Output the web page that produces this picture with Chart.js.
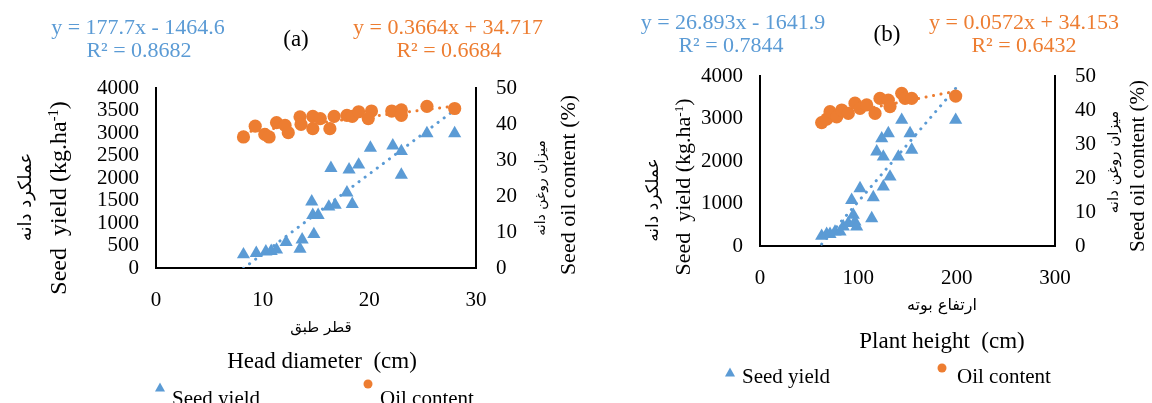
<!DOCTYPE html>
<html>
<head>
<meta charset="utf-8">
<script src="https://cdn.jsdelivr.net/npm/chart.js@4.4.1/dist/chart.umd.min.js"></script>
<style>
  body { margin: 0; background: #fff; }
  #page { position: relative; width: 1152px; height: 403px; overflow: hidden; font-family: "Liberation Serif", serif; color: #000; }
  canvas { position: absolute; top: 0; }
  .t { position: absolute; white-space: pre; transform: translate(-50%, -50%); line-height: 1; }
  .rot { transform: translate(-50%, -50%) rotate(-90deg); }
  .fa { font-family: "DejaVu Sans", sans-serif; direction: rtl; }
  .blue { color: #5b9bd5; }
  .orange { color: #ed7d31; }
  .tri { position: absolute; width: 0; height: 0; border-left: 5px solid transparent; border-right: 5px solid transparent; border-bottom: 9px solid #5b9bd5; transform: translate(-50%, -50%); }
  .dot { position: absolute; width: 9px; height: 9px; border-radius: 50%; background: #ed7d31; transform: translate(-50%, -50%); }
  .leg { position: absolute; white-space: nowrap; transform: translateY(-50%); line-height: 1; }
  sup { font-size: 60%; vertical-align: 0.55em; line-height: 0; }
</style>
</head>
<body>
<div id="page">
  <canvas id="chartA" width="576" height="403" style="left:0"></canvas>
  <canvas id="chartB" width="576" height="403" style="left:576px"></canvas>

  <!-- panel (a) texts -->
  <div class="t blue" style="left:138px;top:27px;font-size:22px">y = 177.7x - 1464.6</div>
  <div class="t blue" style="left:139px;top:50px;font-size:22px">R² = 0.8682</div>
  <div class="t" style="left:296px;top:38px;font-size:23px">(a)</div>
  <div class="t orange" style="left:448px;top:27px;font-size:22px">y = 0.3664x + 34.717</div>
  <div class="t orange" style="left:449px;top:50px;font-size:22px">R² = 0.6684</div>
  <div class="t rot fa" style="left:25px;top:197px;font-size:18px">عملکرد دانه</div>
  <div class="t rot" style="left:58px;top:198px;font-size:24px">Seed  yield (kg.ha<sup>-1</sup>)</div>
  <div class="t rot fa" style="left:540px;top:188px;font-size:14px">میزان روغن دانه</div>
  <div class="t rot" style="left:568px;top:185px;font-size:22px">Seed oil content (%)</div>
  <div class="t fa" style="left:321px;top:327px;font-size:15px">قطر طبق</div>
  <div class="t" style="left:322px;top:360px;font-size:23px">Head diameter  (cm)</div>
  <div class="tri" style="left:160px;top:387px"></div>
  <div class="leg" style="left:172px;top:398px;font-size:21px">Seed yield</div>
  <div class="dot" style="left:368px;top:384px"></div>
  <div class="leg" style="left:380px;top:398px;font-size:21px">Oil content</div>

  <!-- panel (b) texts -->
  <div class="t blue" style="left:733px;top:22px;font-size:22px">y = 26.893x - 1641.9</div>
  <div class="t blue" style="left:731px;top:45px;font-size:22px">R² = 0.7844</div>
  <div class="t" style="left:887px;top:33px;font-size:23px">(b)</div>
  <div class="t orange" style="left:1024px;top:22px;font-size:22px">y = 0.0572x + 34.153</div>
  <div class="t orange" style="left:1024px;top:45px;font-size:22px">R² = 0.6432</div>
  <div class="t rot fa" style="left:652px;top:200px;font-size:17px">عملکرد دانه</div>
  <div class="t rot" style="left:683px;top:187px;font-size:22px">Seed  yield (kg.ha<sup>-1</sup>)</div>
  <div class="t rot fa" style="left:1113px;top:162px;font-size:15px">میزان روغن دانه</div>
  <div class="t rot" style="left:1137px;top:166px;font-size:21px">Seed oil content (%)</div>
  <div class="t fa" style="left:942px;top:305px;font-size:16px">ارتفاع بوته</div>
  <div class="t" style="left:942px;top:340px;font-size:23px">Plant height  (cm)</div>
  <div class="tri" style="left:730px;top:372px"></div>
  <div class="leg" style="left:742px;top:376px;font-size:21px">Seed yield</div>
  <div class="dot" style="left:942px;top:368px"></div>
  <div class="leg" style="left:957px;top:376px;font-size:21px">Oil content</div>
</div>

<script>
// Panel (a): head diameter (cm) vs seed yield (kg/ha) and oil content (%)
const diameterYield = [8.2, 9.4, 10.3, 10.8, 11.3, 12.2, 13.5, 13.7, 14.8, 14.6, 14.7, 15.2, 16.2, 16.8, 17.9, 18.4, 16.4, 18.1, 19.0, 20.1, 22.2, 23.0, 23.0, 25.4, 28.0];
const seedYieldA = [300, 330, 365, 375, 405, 575, 425, 630, 750, 1475, 1175, 1175, 1360, 1400, 1675, 1420, 2220, 2185, 2295, 2670, 2720, 2595, 2070, 2990, 2990];
const diameterOil = [8.2, 9.3, 10.2, 10.6, 11.3, 12.1, 12.4, 13.5, 13.6, 14.7, 14.7, 15.4, 16.3, 16.7, 17.9, 18.4, 19.0, 20.2, 19.9, 22.1, 23.0, 23.0, 25.4, 28.0];
const oilA = [36.4, 39.4, 37.1, 36.4, 40.4, 39.6, 37.6, 42.0, 39.9, 42.1, 38.7, 41.5, 38.7, 42.1, 42.4, 42.1, 43.4, 43.6, 41.5, 43.6, 43.9, 42.4, 44.9, 44.3];
const yieldFitA = [177.7, -1464.6];
const oilFitA = [0.3664, 34.717];

// Panel (b): plant height (cm) vs seed yield and oil content
const heightYield = [62.7, 67.8, 71.2, 76.3, 81.4, 84.7, 89.8, 94.9, 96.6, 98.3, 113.6, 93.2, 101.7, 115.2, 125.4, 132.2, 118.7, 125.4, 140.7, 154.3, 123.8, 130.5, 152.6, 144.1, 199.0];
const seedYieldB = [235, 280, 280, 335, 335, 455, 535, 730, 570, 455, 650, 1080, 1355, 1145, 1395, 1630, 2220, 2100, 2100, 2260, 2530, 2650, 2650, 2965, 2965];
const heightOil = [62.7, 67.8, 71.2, 78.0, 83.1, 89.8, 96.6, 101.7, 108.5, 117.0, 122.0, 130.5, 132.2, 144.1, 147.5, 154.3, 199.0];
const oilB = [36.3, 37.3, 39.5, 38.0, 40.0, 39.0, 42.0, 40.5, 41.5, 39.0, 43.4, 42.9, 41.0, 44.9, 43.4, 43.4, 44.1];
const yieldFitB = [26.893, -1641.9];
const oilFitB = [0.0572, 34.153];

const BLUE = "#5b9bd5";
const ORANGE = "#ed7d31";
const TICK_FONT = { family: "Liberation Serif", size: 21 };

// pairs x and y arrays into scatter points
function points(xs, ys) {
  return xs.map((x, i) => ({ x: x, y: ys[i] }));
}

// trendline across the range of the series, from the fitted equation
function trend(xs, fit) {
  let lo = Math.min(...xs);
  let hi = Math.max(...xs);
  return [lo, hi].map(x => ({ x: x, y: fit[0] * x + fit[1] }));
}

function fixWidth(w) {
  return scale => { scale.width = w; };
}

// plain numbers, no thousands separator
function plain(value) {
  return String(value);
}

function drawPanel(id, p) {
  return new Chart(document.getElementById(id), {
    type: "scatter",
    data: {
      datasets: [
        {
          data: points(p.x1, p.y1),
          yAxisID: "y",
          pointStyle: "triangle",
          pointRadius: 7.6,
          backgroundColor: BLUE,
          borderWidth: 0
        },
        {
          data: points(p.x2, p.y2),
          yAxisID: "y2",
          pointStyle: "circle",
          pointRadius: 6.6,
          backgroundColor: ORANGE,
          borderWidth: 0
        },
        {
          data: trend(p.x1, p.fit1),
          yAxisID: "y",
          showLine: true,
          pointRadius: 0,
          borderColor: BLUE,
          borderWidth: 3,
          borderDash: [0.1, 7.5],
          borderCapStyle: "round"
        },
        {
          data: trend(p.x2, p.fit2),
          yAxisID: "y2",
          showLine: true,
          pointRadius: 0,
          borderColor: ORANGE,
          borderWidth: 3,
          borderDash: [0.1, 7.5],
          borderCapStyle: "round"
        }
      ]
    },
    options: {
      responsive: false,
      animation: false,
      devicePixelRatio: 1,
      layout: { padding: p.pad },
      plugins: { legend: { display: false }, tooltip: { enabled: false } },
      scales: {
        x: {
          type: "linear",
          min: 0,
          max: p.xMax,
          grid: { display: false, drawTicks: false },
          border: { display: true, color: "#000", width: 2 },
          ticks: { stepSize: p.xStep, color: "#000", font: TICK_FONT, padding: 20, callback: plain },
          afterFit: scale => { scale.height = 50; }
        },
        y: {
          position: "left",
          min: 0,
          max: 4000,
          grid: { display: false, drawTicks: false },
          border: { display: true, color: "#000", width: 2 },
          ticks: { stepSize: p.yStep, autoSkip: false, color: "#000", font: TICK_FONT, padding: 17, callback: plain },
          afterFit: fixWidth(70)
        },
        y2: {
          position: "right",
          min: 0,
          max: 50,
          grid: { display: false, drawTicks: false },
          border: { display: true, color: "#000", width: 2 },
          ticks: { stepSize: 10, autoSkip: false, color: "#000", font: TICK_FONT, padding: 20, callback: plain },
          afterFit: fixWidth(70)
        }
      }
    }
  });
}

drawPanel("chartA", {
  x1: diameterYield, y1: seedYieldA, x2: diameterOil, y2: oilA,
  fit1: yieldFitA, fit2: oilFitA,
  xMax: 30, xStep: 10, yStep: 500,
  pad: { left: 86, right: 30, top: 88, bottom: 85 }
});

drawPanel("chartB", {
  x1: heightYield, y1: seedYieldB, x2: heightOil, y2: oilB,
  fit1: yieldFitB, fit2: oilFitB,
  xMax: 300, xStep: 100, yStep: 1000,
  pad: { left: 114, right: 27, top: 76, bottom: 107 }
});
</script>
</body>
</html>
